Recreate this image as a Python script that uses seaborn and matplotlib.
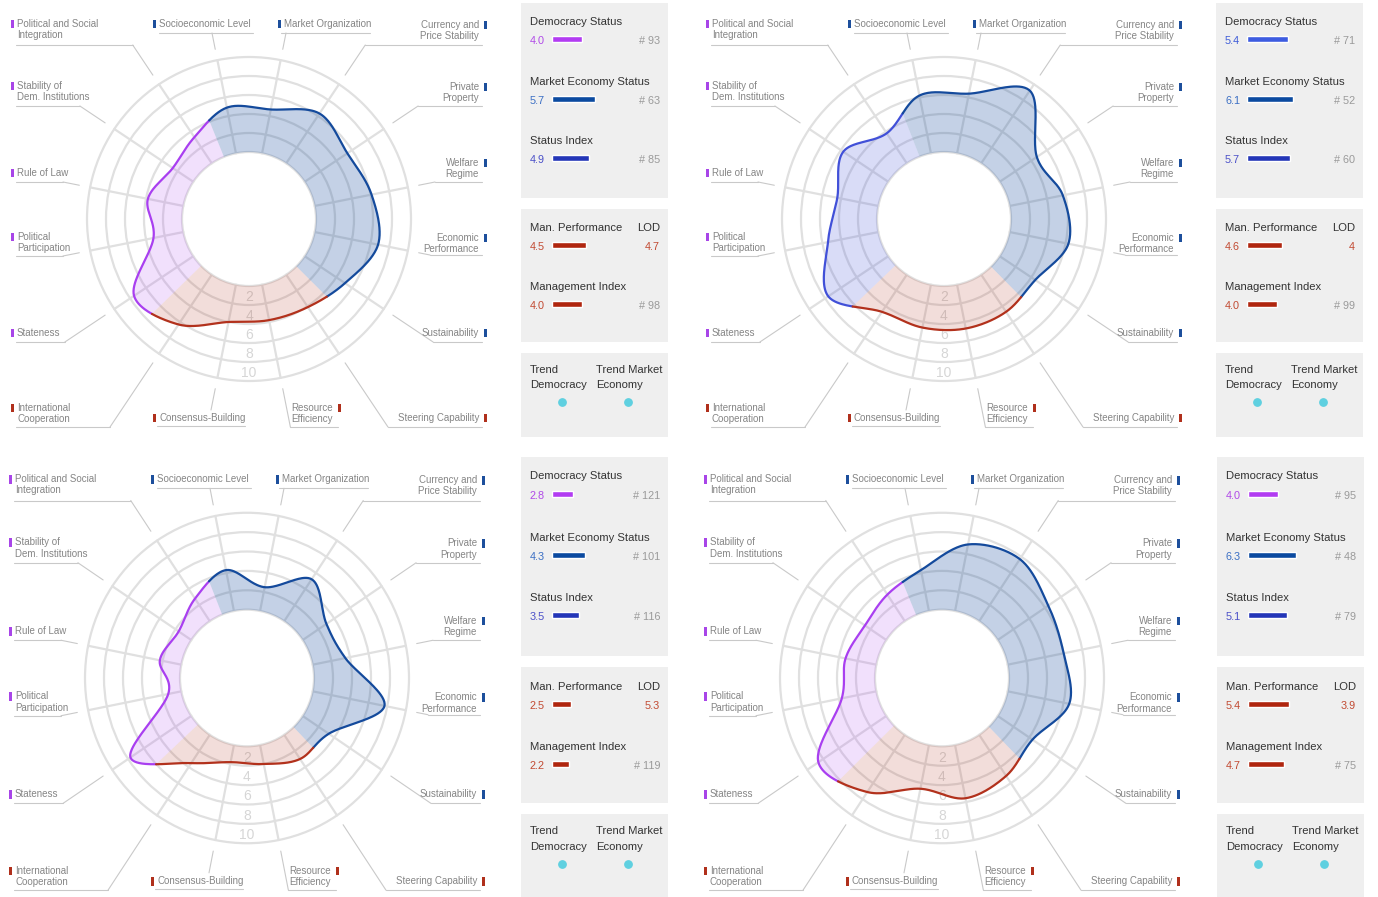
import numpy as np
import matplotlib
matplotlib.use("Agg")
import matplotlib.pyplot as plt
import seaborn as sns
from matplotlib.patches import Rectangle, Circle

# ---- data -------------------------------------------------------------
criteria = [
    "Stateness", "Political Participation", "Rule of Law",
    "Stability of Dem. Institutions", "Political and Social Integration",
    "Socioeconomic Level", "Market Organization", "Currency and Price Stability",
    "Private Property", "Welfare Regime", "Economic Performance", "Sustainability",
    "Steering Capability", "Resource Efficiency", "Consensus-Building",
    "International Cooperation",
]
label_lines = [
    ["Stateness"], ["Political", "Participation"], ["Rule of Law"],
    ["Stability of", "Dem. Institutions"], ["Political and Social", "Integration"],
    ["Socioeconomic Level"], ["Market Organization"], ["Currency and", "Price Stability"],
    ["Private", "Property"], ["Welfare", "Regime"], ["Economic", "Performance"],
    ["Sustainability"], ["Steering Capability"], ["Resource", "Efficiency"],
    ["Consensus-Building"], ["International", "Cooperation"],
]
groups = ["dem"] * 5 + ["eco"] * 7 + ["mgmt"] * 4

scores_tl = [7.5, 3.2, 3.8, 2.6, 3.3, 4.9, 4.7, 6.3, 5.4, 6.1, 6.8, 5.1, 4.1, 3.8, 4.0, 6.3]
scores_tr = [7.6, 5.4, 4.4, 5.7, 3.8, 6.2, 6.4, 9.2, 4.7, 5.7, 6.3, 4.5, 4.7, 4.7, 4.6, 4.7]
scores_bl = [7.7, 1.4, 2.3, 1.6, 2.8, 4.3, 2.5, 5.2, 3.0, 3.5, 7.7, 3.3, 3.0, 2.0, 1.8, 3.5]
scores_br = [8.6, 3.7, 3.3, 2.7, 3.3, 4.3, 7.0, 7.7, 6.4, 6.0, 6.6, 4.4, 5.1, 5.6, 4.6, 7.1]

dem_status = [4.0, 5.4, 2.8, 4.0]
dem_rank = [93, 71, 121, 95]
econ_status = [5.7, 6.1, 4.3, 6.3]
econ_rank = [63, 52, 101, 48]
status_index = [4.9, 5.7, 3.5, 5.1]
status_rank = [85, 60, 116, 79]
man_perf = [4.5, 4.6, 2.5, 5.4]
lod = [4.7, 4.0, 5.3, 3.9]
mgmt_index = [4.0, 4.0, 2.2, 4.7]
mgmt_rank = [98, 99, 119, 75]
dem_is_blue = [False, True, False, False]

# ---- style ------------------------------------------------------------
sns.set_theme(style="white")
plt.rcParams["font.family"] = ["Liberation Sans", "DejaVu Sans"]

PURPLE = "#a93ff0"
DEM_BLUE = "#4150d8"
ECO = "#144a9c"
MGMT = "#b2311c"
MARK = {"dem": "#a845e8", "eco": "#1d4f9c", "mgmt": "#b0301c"}
GRID = "#e0e0e0"
LEAD = "#c9c9c9"
LABEL = "#858585"

W, H = 1378, 897
fig = plt.figure(figsize=(W / 100, H / 100), dpi=100)

R0, UNIT = 67.0, 9.5
ticks = [0, 2, 4, 6, 8, 10]
theta = np.deg2rad(236.25 + 22.5 * np.arange(len(criteria)))


def rad(v):
    return R0 + UNIT * np.asarray(v, dtype=float)


def px_axes(left, top, width, height):
    return fig.add_axes([left / W, 1 - (top + height) / H, width / W, height / H])


def smooth(P, s):
    n = len(P)
    k = np.floor(s).astype(int)
    t = (s - k)[:, None]
    p0, p1, p2, p3 = (P[(k + j) % n] for j in (-1, 0, 1, 2))
    return 0.5 * (2 * p1 + (p2 - p0) * t + (2 * p0 - 5 * p1 + 4 * p2 - p3) * t ** 2
                  + (3 * p1 - p0 - 3 * p2 + p3) * t ** 3)


# label layout, in px of the top-left panel (center at 249, 219)
# (side, text x, first line y, underline y, leader end y, underline span)
layout = [
    ("L", 17, 333, 342, 342, (16, None)),
    ("L", 17, 237, 256, 256, (16, None)),
    ("L", 17, 173, 182, 182, (16, None)),
    ("L", 17, 86, 106, 106, (16, None)),
    ("L", 17, 24, 45, 45, (16, None)),
    ("L", 159, 24, 33, 33, (159, 253)),
    ("L", 284, 24, 33, 33, (281, 370)),
    ("R", 479, 25, 45, 45, (None, 482)),
    ("R", 479, 87, 106, 106, (None, 482)),
    ("R", 479, 163, 182, 182, (None, 482)),
    ("R", 479, 238, 255, 255, (None, 482)),
    ("R", 479, 333, 342, 342, (None, 482)),
    ("R", 479, 418, 427, 427, (None, 482)),
    ("R", 333, 408, 427, 427, (None, 338)),
    ("L", 159, 418, 426, 410, (157, 245)),
    ("L", 17, 408, 427, 427, (16, None)),
]
CX, CY = 249, 219


def radar(ax, scores, dem_blue):
    ax.set_xlim(-249, 251)
    ax.set_ylim(-226, 219)
    ax.axis("off")
    sx, cy_ = np.sin(theta), np.cos(theta)

    for v in ticks:
        ax.add_patch(Circle((0, 0), rad(v), fill=False, ec=GRID, lw=1.6, zorder=1))
    for a, b in zip(sx, cy_):
        ax.plot([rad(0) * a, rad(10) * a], [rad(0) * b, rad(10) * b], color=GRID, lw=1.6, zorder=1)
    for v in ticks[1:]:
        ax.text(0, -rad(v) + 1, str(v), ha="center", va="bottom", fontsize=10,
                color="#d6d6d6", zorder=1.5)

    # smooth closed outline through the 16 scores
    r = rad(scores)
    P = np.column_stack([r * sx, r * cy_])
    colors = {"dem": DEM_BLUE if dem_blue else PURPLE, "eco": ECO, "mgmt": MGMT}
    alphas = {"dem": 0.2 if dem_blue else 0.16, "eco": 0.25, "mgmt": 0.16}
    for g, (s0, s1) in {"dem": (-0.5, 4.5), "eco": (4.5, 11.5), "mgmt": (11.5, 15.5)}.items():
        s = np.linspace(s0, s1, int((s1 - s0) * 40) + 1)
        C = smooth(P, s)
        ang = np.unwrap(np.arctan2(C[:, 0], C[:, 1]))
        arc = np.linspace(ang[-1], ang[0], 80)
        xs = np.concatenate([C[:, 0], rad(0) * np.sin(arc)])
        ys = np.concatenate([C[:, 1], rad(0) * np.cos(arc)])
        ax.fill(xs, ys, color=colors[g], alpha=alphas[g], lw=0, zorder=2)
        sns.lineplot(x=C[:, 0], y=C[:, 1], sort=False, estimator=None, color=colors[g],
                     lw=1.6, ax=ax, zorder=3)

    # labels with leader lines
    for i, (side, tx, ty, uy, ly, span) in enumerate(layout):
        a, b = sx[i], cy_[i]
        Yl = CY - ly
        r_end = Yl / b
        r_start = 173.0
        ax.plot([r_start * a, r_end * a], [r_start * b, r_end * b], color=LEAD, lw=0.8, zorder=1)
        hit = r_end * a
        Yu = CY - uy
        x0 = hit if span[0] is None else span[0] - CX
        x1 = hit if span[1] is None else span[1] - CX
        ax.plot([x0, x1], [Yu, Yu], color=LEAD, lw=0.8, zorder=1)
        ha = "left" if side == "L" else "right"
        for j, line in enumerate(label_lines[i]):
            ax.text(tx - CX, CY - (ty + 11 * j), line, ha=ha, va="center", fontsize=7,
                    color=LABEL)
        mx = tx - CX - 6 if side == "L" else tx - CX + 5
        ax.add_patch(Rectangle((mx, CY - ty - 4.5), 2.6, 8.5, fc=MARK[groups[i]], ec="none"))


def side_panel(ax, k):
    ax.set_xlim(0, 147)
    ax.set_ylim(445, 0)
    ax.axis("off")
    for y0, y1 in [(3, 198), (209, 342), (353, 437)]:
        ax.add_patch(Rectangle((0, y0), 147, y1 - y0, fc="#efefef", ec="none"))
    dem_val = "#3d5bd8" if dem_is_blue[k] else "#b04ae8"
    dem_bar = "#3d5ce0" if dem_is_blue[k] else "#b23cf2"
    rows = [
        ("Democracy Status", dem_status[k], f"# {dem_rank[k]}", 22, dem_val, dem_bar),
        ("Market Economy Status", econ_status[k], f"# {econ_rank[k]}", 82, "#3b6fc4", "#0b4aa0"),
        ("Status Index", status_index[k], f"# {status_rank[k]}", 141, "#4a4fc8", "#2436b8"),
        ("Man. Performance", man_perf[k], f"{lod[k]:g}", 228, "#c24a32", "#b0260f"),
        ("Management Index", mgmt_index[k], f"# {mgmt_rank[k]}", 287, "#c24a32", "#b0260f"),
    ]
    tfs, vfs = 8.1, 7.8
    for title, val, right, y, vcol, bcol in rows:
        ax.text(9, y, title, ha="left", va="center", fontsize=tfs, color="#333333")
        ax.text(9, y + 19, f"{val:.1f}", ha="left", va="center", fontsize=vfs, color=vcol)
        ax.barh([y + 17], [val * 7.6], left=31, height=6, color=bcol)
        rcol = "#c24a32" if title.startswith("Man.") else "#9a9a9a"
        ax.text(139, y + 19, right, ha="right", va="center", fontsize=vfs, color=rcol)
    ax.text(139, 228, "LOD", ha="right", va="center", fontsize=tfs, color="#333333")
    ax.text(9, 370, "Trend", ha="left", va="center", fontsize=tfs, color="#333333")
    ax.text(9, 385, "Democracy", ha="left", va="center", fontsize=tfs, color="#333333")
    ax.text(75, 370, "Trend Market", ha="left", va="center", fontsize=tfs, color="#333333")
    ax.text(75, 385, "Economy", ha="left", va="center", fontsize=tfs, color="#333333")
    ax.scatter([41, 107], [402, 402], s=28, color="#5fd0e0", zorder=3)


panels = [
    (249, 219, 1.0, 521, 0, scores_tl),
    (944, 219, 1.0, 1216, 0, scores_tr),
    (247, 678, 1.02, 521, 454, scores_bl),
    (942, 678, 1.02, 1217, 454, scores_br),
]
for k, (cx, cy, sy, side_x, side_top, sc) in enumerate(panels):
    ax = px_axes(cx - 249, cy - 219 * sy, 500, 445 * sy)
    radar(ax, sc, dem_is_blue[k])
    sax = px_axes(side_x, side_top, 147, 445 * sy)
    side_panel(sax, k)

fig.savefig("out.png", dpi=100)
